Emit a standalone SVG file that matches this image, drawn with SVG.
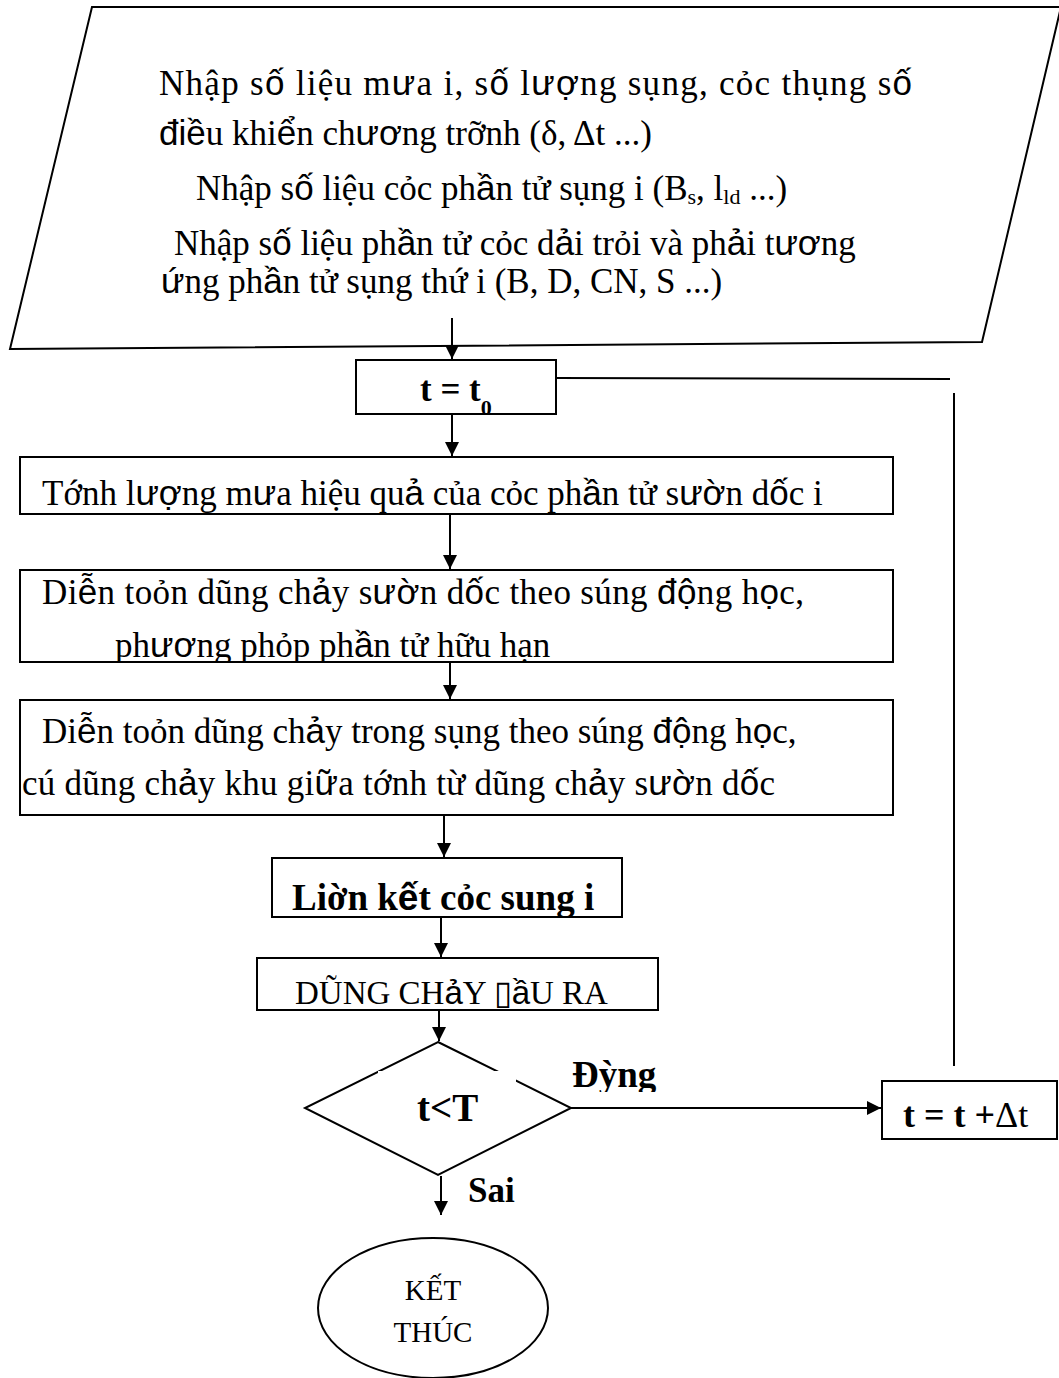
<svg xmlns="http://www.w3.org/2000/svg" width="1059" height="1378" viewBox="0 0 1059 1378">
<style>
.ln{stroke:#000;stroke-width:2;fill:none}
.bx{fill:#fff;stroke:#000;stroke-width:2}
.t{font-family:"Liberation Serif","Times New Roman",serif;font-size:35px;fill:#000}
.s{font-family:"Liberation Sans",Arial,sans-serif}
.b{font-weight:bold}
</style>
<defs>
<marker id="ah" markerWidth="14" markerHeight="14" refX="14" refY="7" orient="auto" markerUnits="userSpaceOnUse"><path d="M0,0 L14,7 L0,14 z" fill="#000"/></marker>
<clipPath id="c1"><rect x="20" y="457" width="873" height="56"/></clipPath>
<clipPath id="c2"><rect x="20" y="570" width="873" height="91"/></clipPath>
<clipPath id="c4"><rect x="272" y="858" width="350" height="58"/></clipPath>
<clipPath id="c0"><rect x="356" y="360" width="200" height="53"/></clipPath>
<clipPath id="cd"><rect x="560" y="1040" width="120" height="52"/></clipPath>
</defs>
<rect width="1059" height="1378" fill="#fff"/>

<g id="input">
<polygon class="bx" points="92,7 1061,7 982,342 10,349"/>
<text class="t" x="159" y="95" textLength="753" lengthAdjust="spacing">Nhập s<tspan class="s">ố</tspan> liệu m<tspan class="s">ư</tspan>a i, s<tspan class="s">ố</tspan> l<tspan class="s">ượ</tspan>ng sụng, cỏc thụng s<tspan class="s">ố</tspan></text>
<text class="t" x="159" y="145"><tspan class="s">điề</tspan>u khi<tspan class="s">ể</tspan>n ch<tspan class="s">ươ</tspan>ng trỡnh (δ, Δt ...)</text>
<text class="t" x="196" y="200">Nhập s<tspan class="s">ố</tspan> liệu cỏc ph<tspan class="s">ầ</tspan>n tử sụng i (B<tspan font-size="22" dy="4">s</tspan><tspan dy="-4">, l</tspan><tspan font-size="22" dy="4">ld</tspan><tspan dy="-4"> ...)</tspan></text>
<text class="t" x="174" y="255">Nhập s<tspan class="s">ố</tspan> liệu ph<tspan class="s">ầ</tspan>n tử cỏc d<tspan class="s">ả</tspan>i trỏi và ph<tspan class="s">ả</tspan>i t<tspan class="s">ươ</tspan>ng</text>
<text class="t" x="161" y="293"><tspan class="s">ứ</tspan>ng ph<tspan class="s">ầ</tspan>n tử sụng thứ i (B, D, CN, S ...)</text>
</g>

<g id="init">
<rect class="bx" x="356" y="360" width="200" height="54"/>
<g clip-path="url(#c0)"><text class="t b" x="420" y="401">t = t<tspan font-size="22" dy="14">0</tspan></text></g>
</g>

<g id="rain">
<rect class="bx" x="20" y="457" width="873" height="57"/>
<g clip-path="url(#c1)"><text class="t" x="42" y="505">Tớnh l<tspan class="s">ượ</tspan>ng m<tspan class="s">ư</tspan>a hiệu qu<tspan class="s">ả</tspan> của cỏc ph<tspan class="s">ầ</tspan>n tử s<tspan class="s">ườ</tspan>n d<tspan class="s">ố</tspan>c i</text></g>
</g>

<g id="slope">
<rect class="bx" x="20" y="570" width="873" height="92"/>
<g clip-path="url(#c2)">
<text class="t" x="42" y="604" textLength="762" lengthAdjust="spacing">Di<tspan class="s">ễ</tspan>n toỏn dũng ch<tspan class="s">ả</tspan>y s<tspan class="s">ườ</tspan>n d<tspan class="s">ố</tspan>c theo súng <tspan class="s">độ</tspan>ng h<tspan class="s">ọ</tspan>c,</text>
<text class="t" x="115" y="657">ph<tspan class="s">ươ</tspan>ng phỏp ph<tspan class="s">ầ</tspan>n tử hữu hạn</text>
</g>
</g>

<g id="river">
<rect class="bx" x="20" y="700" width="873" height="115"/>
<text class="t" x="42" y="743">Di<tspan class="s">ễ</tspan>n toỏn dũng ch<tspan class="s">ả</tspan>y trong sụng theo súng <tspan class="s">độ</tspan>ng h<tspan class="s">ọ</tspan>c,</text>
<text class="t" x="22" y="795" textLength="753" lengthAdjust="spacing">cú dũng ch<tspan class="s">ả</tspan>y khu gi<tspan class="s">ữ</tspan>a tớnh từ dũng ch<tspan class="s">ả</tspan>y s<tspan class="s">ườ</tspan>n d<tspan class="s">ố</tspan>c</text>
</g>

<g id="link">
<rect class="bx" x="272" y="858" width="350" height="59"/>
<g clip-path="url(#c4)"><text class="t b" x="292" y="910" style="font-size:37px">Liờn k<tspan class="s">ế</tspan>t cỏc sung i</text></g>
</g>

<g id="output">
<rect class="bx" x="257" y="958" width="401" height="52"/>
<text class="t" x="295" y="1004" style="font-size:33px">DŨNG CH<tspan class="s">ả</tspan>Y <tspan class="s">▯ầ</tspan>U RA</text>
</g>

<g id="decision">
<polygon class="bx" points="438,1042 571,1108 438,1175 305,1108"/>
<rect x="378" y="1071" width="138" height="58" fill="#fff"/>
<text class="t b" x="417" y="1121" style="font-size:39px">t&lt;T</text>
</g>

<g id="step">
<rect class="bx" x="882" y="1081" width="175" height="58"/>
<text class="t" x="903" y="1127" style="font-size:36px"><tspan class="b">t = t +</tspan>Δt</text>
</g>

<g id="end">
<ellipse class="bx" cx="433" cy="1308" rx="115" ry="70"/>
<text class="t" x="433" y="1300" text-anchor="middle" style="font-size:29px">KẾT</text>
<text class="t" x="433" y="1342" text-anchor="middle" style="font-size:29px">THÚC</text>
</g>

<g id="connectors">
<line class="ln" x1="452" y1="318" x2="452" y2="359" marker-end="url(#ah)"/>
<line class="ln" x1="452" y1="414" x2="452" y2="456" marker-end="url(#ah)"/>
<line class="ln" x1="450" y1="514" x2="450" y2="569" marker-end="url(#ah)"/>
<line class="ln" x1="450" y1="662" x2="450" y2="699" marker-end="url(#ah)"/>
<line class="ln" x1="444" y1="815" x2="444" y2="857" marker-end="url(#ah)"/>
<line class="ln" x1="441" y1="917" x2="441" y2="957" marker-end="url(#ah)"/>
<line class="ln" x1="439" y1="1010" x2="439" y2="1041" marker-end="url(#ah)"/>
<line class="ln" x1="571" y1="1108" x2="881" y2="1108" marker-end="url(#ah)"/>
<line class="ln" x1="441" y1="1176" x2="441" y2="1215" marker-end="url(#ah)"/>
<line class="ln" x1="954" y1="1066" x2="954" y2="393"/>
<line class="ln" x1="556" y1="378" x2="950" y2="379"/>
<g clip-path="url(#cd)"><text class="t b" x="572" y="1087" style="font-size:37px">Đỳng</text></g>
<text class="t b" x="468" y="1202">Sai</text>
</g>
</svg>
